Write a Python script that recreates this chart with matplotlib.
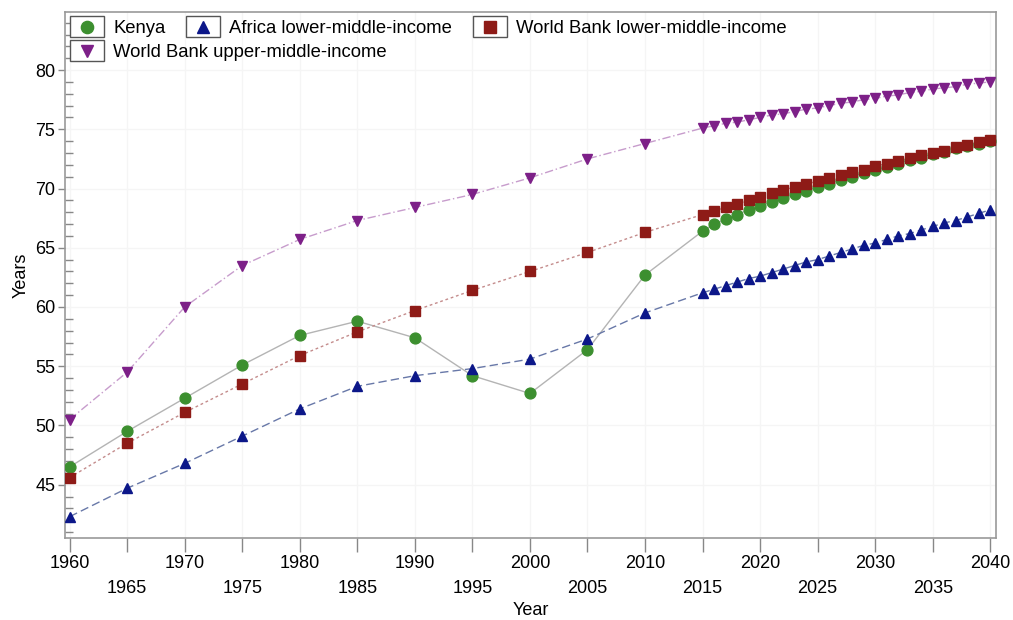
import matplotlib
matplotlib.use("Agg")
import matplotlib.pyplot as plt
from matplotlib.legend_handler import HandlerBase
from matplotlib.patches import Rectangle
from matplotlib.lines import Line2D
from matplotlib.ticker import MultipleLocator, FixedLocator

plt.rcParams["font.family"] = ["Liberation Sans", "DejaVu Sans"]

# Five-yearly history 1960-2010, then annual projections 2015-2040
years = [1960, 1965, 1970, 1975, 1980, 1985, 1990, 1995, 2000, 2005, 2010,
         2015, 2016, 2017, 2018, 2019, 2020, 2021, 2022, 2023, 2024, 2025,
         2026, 2027, 2028, 2029, 2030, 2031, 2032, 2033, 2034, 2035, 2036,
         2037, 2038, 2039, 2040]

kenya = [46.5, 49.5, 52.3, 55.1, 57.6, 58.8, 57.4, 54.2, 52.7, 56.4, 62.7,
         66.4, 67.0, 67.4, 67.8, 68.2, 68.5, 68.9, 69.2, 69.5, 69.8, 70.1,
         70.4, 70.7, 71.0, 71.3, 71.6, 71.8, 72.1, 72.4, 72.6, 72.9, 73.1,
         73.4, 73.6, 73.8, 74.0]

africa_lmi = [42.3, 44.7, 46.8, 49.1, 51.4, 53.3, 54.2, 54.8, 55.6, 57.3, 59.5,
              61.2, 61.5, 61.8, 62.1, 62.4, 62.6, 62.9, 63.2, 63.5, 63.8, 64.0,
              64.3, 64.6, 64.9, 65.2, 65.4, 65.7, 66.0, 66.2, 66.5, 66.8, 67.1,
              67.3, 67.6, 67.9, 68.2]

wb_lmi = [45.6, 48.5, 51.1, 53.5, 55.9, 57.9, 59.7, 61.4, 63.0, 64.6, 66.3,
          67.8, 68.1, 68.4, 68.7, 69.0, 69.3, 69.6, 69.9, 70.1, 70.4, 70.6,
          70.9, 71.1, 71.4, 71.6, 71.9, 72.1, 72.3, 72.6, 72.8, 73.0, 73.2,
          73.5, 73.7, 73.9, 74.1]

wb_umi = [50.5, 54.5, 60.0, 63.5, 65.7, 67.3, 68.4, 69.5, 70.9, 72.5, 73.8,
          75.1, 75.3, 75.5, 75.6, 75.8, 76.0, 76.2, 76.3, 76.5, 76.7, 76.8,
          77.0, 77.2, 77.3, 77.5, 77.6, 77.8, 77.9, 78.1, 78.2, 78.4, 78.5,
          78.6, 78.8, 78.9, 79.0]

labels = ["Kenya", "Africa lower-middle-income",
          "World Bank lower-middle-income", "World Bank upper-middle-income"]

major_years = [1960, 1970, 1980, 1990, 2000, 2010, 2020, 2030, 2040]
minor_years = [1965, 1975, 1985, 1995, 2005, 2015, 2025, 2035]

FS = 13
LEG_FS = 13.3

fig = plt.figure(figsize=(10.13, 6.2), dpi=100)
ax = fig.add_axes([65 / 1013, 1 - 538 / 620, 931 / 1013, 526 / 620])

series = [
    (kenya, "o", "#3c8f2f", "#b4b4b4", "-", 7.8),
    (africa_lmi, "^", "#0c1789", "#6878a8", (0, (6, 3)), 7.8),
    (wb_lmi, "s", "#8e1b17", "#c48c8c", (0, (2, 2)), 7.4),
    (wb_umi, "v", "#7d2088", "#c79ccc", (0, (6, 2, 1, 2)), 7.8),
]
handles = []
for vals, mk, mc, lc, ls, ms in series:
    ax.plot(years, vals, color=lc, linestyle=ls, linewidth=1.0, zorder=2)
    h, = ax.plot(years, vals, linestyle="none", marker=mk, markersize=ms,
                 markerfacecolor=mc, markeredgecolor=mc, zorder=3)
    handles.append(h)

ax.set_xlim(1959.6, 2040.5)
ax.set_ylim(40.5, 84.9)

# x axis: decades on the first row, mid-decade years staggered below
ax.xaxis.set_major_locator(FixedLocator(major_years))
ax.xaxis.set_minor_locator(FixedLocator(minor_years))
ax.set_xticklabels([str(y) for y in major_years])
ax.set_xticklabels([str(y) for y in minor_years], minor=True)
ax.tick_params(axis="x", which="major", direction="out", length=10, width=1,
               color="#888888", pad=2, labelsize=FS)
ax.tick_params(axis="x", which="minor", direction="out", length=10, width=1,
               color="#888888", pad=20, labelsize=FS)

ax.yaxis.set_major_locator(MultipleLocator(5))
ax.yaxis.set_minor_locator(MultipleLocator(1))
ax.set_yticks([45, 50, 55, 60, 65, 70, 75, 80])
ax.tick_params(axis="y", which="major", direction="out", length=5, width=1,
               color="#888888", pad=2, labelsize=FS)
ax.tick_params(axis="y", which="minor", direction="in", length=6, width=1,
               color="#888888")

for sp in ax.spines.values():
    sp.set_color("#999999")
    sp.set_linewidth(1.2)

ax.grid(True, which="both", axis="x", color="#f5f5f5", linewidth=1.0, zorder=0)
ax.grid(True, which="major", axis="y", color="#f5f5f5", linewidth=1.0, zorder=0)
ax.set_axisbelow(True)

ax.set_xlabel("Year", fontsize=FS, labelpad=3.5)
ax.set_ylabel("Years", fontsize=FS, labelpad=4)


class BoxedMarker(HandlerBase):
    """Legend key: the series marker inside a small framed box."""

    def create_artists(self, legend, orig, xdescent, ydescent, width,
                       height, fontsize, trans):
        extra = 3
        box = Rectangle((-xdescent, -ydescent - extra), width,
                        height + 2 * extra, facecolor="white",
                        edgecolor="#555555", linewidth=1.0, transform=trans)
        mk = Line2D([width / 2 - xdescent], [height / 2 - ydescent],
                    marker=orig.get_marker(), markersize=orig.get_markersize() + 1,
                    markerfacecolor=orig.get_markerfacecolor(),
                    markeredgecolor=orig.get_markeredgecolor(),
                    linestyle="none", transform=trans)
        return [box, mk]


hmap = {h: BoxedMarker() for h in handles}
common = dict(frameon=False, fontsize=LEG_FS, handler_map=hmap, handlelength=1.85,
              handletextpad=0.5, columnspacing=1.1, borderpad=0,
              borderaxespad=0, loc="upper left")
leg1 = ax.legend(handles[:3], labels[:3], ncol=3,
                 bbox_to_anchor=(5 / 931, 1 - 8 / 526), **common)
ax.add_artist(leg1)
ax.legend(handles[3:], labels[3:], ncol=1,
          bbox_to_anchor=(5 / 931, 1 - 32 / 526), **common)

fig.savefig("out.png", dpi=100)
